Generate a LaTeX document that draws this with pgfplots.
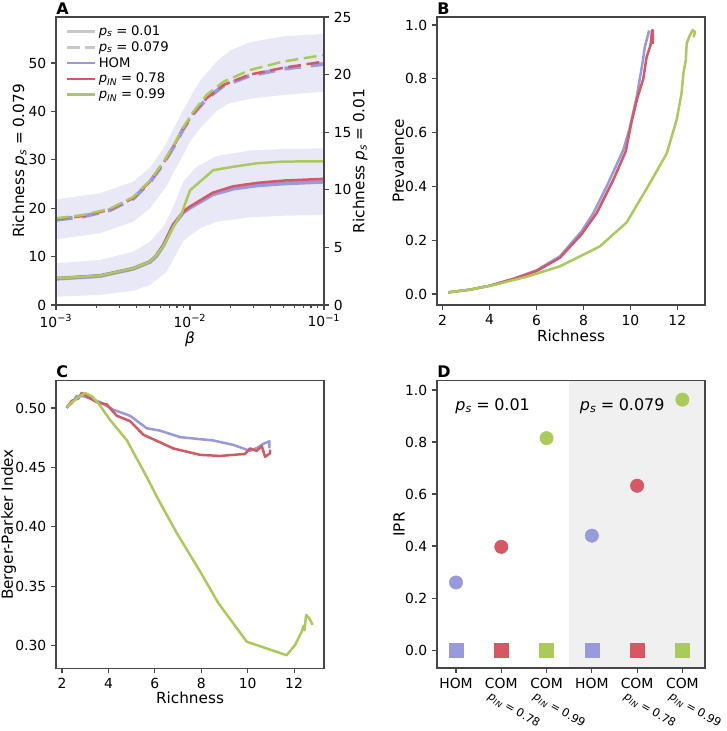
\documentclass[border=0pt]{standalone}
\usepackage{fontspec}
\setmainfont{DejaVu Sans}
\usepackage{pgfplots}
\pgfplotsset{compat=1.18}
\definecolor{homc}{RGB}{153,153,221}
\definecolor{redc}{RGB}{213,88,99}
\definecolor{grnc}{RGB}{170,202,92}
\definecolor{bandc}{RGB}{232,232,246}
\definecolor{legg}{RGB}{200,200,200}
\definecolor{spine}{RGB}{70,70,70}
\definecolor{shade}{RGB}{240,240,240}
\newcommand{\pv}[2]{\textit{p}\textsubscript{\textit{#1}}\;=\;#2}
\tikzset{
  lw/.style={line width=1.8pt, line join=round},
  dsh/.style={dash pattern=on 9.25pt off 4pt},
  letter/.style={anchor=base west, inner sep=0pt, font=\fontsize{11.5}{13}\selectfont\bfseries},
  rotl/.style={xshift=-7pt, yshift=-16.5pt, rotate=-30, anchor=north west, inner sep=0pt, font=\fontsize{8.2}{10}\selectfont},
}
\pgfplotsset{
  base/.style={
    scale only axis, width=192.96pt, height=207.36pt,
    clip mode=individual,
    axis line style={spine, line width=0.8pt},
    tick style={spine, line width=0.8pt},
    tick align=outside, xtick pos=bottom, ytick pos=left,
    major tick length=3.5pt, minor tick length=2pt,
    tick label style={font=\fontsize{10}{12}\selectfont},
    /pgf/number format/assume math mode=true,
    label style={font=\fontsize{11}{13}\selectfont},
  },
}
\begin{document}
\begin{tikzpicture}
\useasboundingbox (0,0) rectangle (523.44pt,526.32pt);
% ---------------- Panel A (left axis, p_s = 0.079) ----------------
\begin{axis}[base, at={(40.32pt,306.72pt)}, anchor=south west,
  xmode=log, xmin=1e-3, xmax=1e-1, ymin=0, ymax=59.5,
  ytick={0,10,20,30,40,50}, ytick pos=left,
  xtick={0.001,0.01,0.1},
  xticklabels={10\textsuperscript{−3},10\textsuperscript{−2},10\textsuperscript{−1}},
  minor xtick={0.002,0.003,0.004,0.005,0.006,0.007,0.008,0.009,0.02,0.03,0.04,0.05,0.06,0.07,0.08,0.09},
  xlabel={\textit{β}}, xlabel style={at={(axis description cs:0.5,-0.12)}, anchor=center},
  ylabel={Richness \pv{s}{0.079}}, ylabel style={at={(axis description cs:-0.135,0.5)}, anchor=center},
  legend style={draw=none, fill=none, at={(0.03,0.985)}, anchor=north west,
    font=\fontsize{9.5}{11}\selectfont, row sep=-1.2pt, inner sep=1pt},
  legend cell align=left,
  legend image code/.code={\draw[#1] (0pt,0pt) -- (20pt,0pt);},
]
\addlegendimage{legg, line width=1.8pt}
\addlegendentry{\pv{s}{0.01}}
\addlegendimage{legg, line width=1.8pt, dsh}
\addlegendentry{\pv{s}{0.079}}
\addlegendimage{homc, line width=1.8pt}
\addlegendentry{HOM}
\addlegendimage{redc, line width=1.8pt}
\addlegendentry{\pv{IN}{0.78}}
\addlegendimage{grnc, line width=1.8pt}
\addlegendentry{\pv{IN}{0.99}}
% band p_s = 0.079
\addplot[fill=bandc, draw=none, forget plot] coordinates {
(0.001,21.83)(0.002128,23.07)(0.003776,25.48)(0.005026,28.4)(0.006324,32.3)(0.007516,36.3)(0.008918,40.3)(0.01059,44.0)(0.01189,46.3)(0.01582,50.3)(0.02005,52.6)(0.02805,54.3)(0.04977,55.50)(0.1,55.99)
(0.1,44.08)(0.04977,43.39)(0.02805,42.6)(0.01939,41.6)(0.01582,40.1)(0.01189,36.5)(0.01,33.8)(0.008918,31.0)(0.0075,27.3)(0.006701,24.6)(0.005026,19.97)(0.003776,17.22)(0.002128,14.81)(0.001,13.57)};
% dashed curves
\addplot[homc, line width=2.8pt, dash pattern=on 12pt off 7pt, forget plot] coordinates {
(0.001,17.6)(0.0016,18.3)(0.00253,19.6)(0.003776,22.0)(0.005026,25.4)(0.006324,29.2)(0.007516,32.6)(0.008918,36.4)(0.01059,39.5)(0.0133,42.6)(0.01774,45.3)(0.02805,47.4)(0.04977,48.8)(0.1,49.8)};
\addplot[redc, lw, dsh, forget plot] coordinates {
(0.001,17.7)(0.0016,18.4)(0.00253,19.7)(0.003776,22.1)(0.005026,25.5)(0.006324,29.3)(0.007516,32.7)(0.008918,36.5)(0.01059,39.6)(0.0133,42.7)(0.01774,45.45)(0.02805,47.6)(0.04977,49.0)(0.1,50.3)};
\addplot[grnc, lw, dsh, forget plot] coordinates {
(0.001,17.9)(0.0016,18.6)(0.00253,19.9)(0.003776,22.3)(0.005026,25.7)(0.006324,29.5)(0.007516,32.9)(0.008918,36.7)(0.01059,39.9)(0.0133,43.4)(0.01774,46.1)(0.02805,48.55)(0.04977,50.3)(0.1,51.65)};
\node[letter] at (rel axis cs:0,1) [yshift=1.8pt] {A};
\end{axis}
% ---------------- Panel A (right axis, p_s = 0.01) ----------------
\begin{axis}[base, at={(40.32pt,306.72pt)}, anchor=south west, axis on top,
  xmode=log, xmin=1e-3, xmax=1e-1, ymin=0, ymax=25,
  ytick={0,5,10,15,20,25}, ytick pos=right, yticklabel pos=right,
  xtick={0.001,0.01,0.1}, xticklabel=\empty,
  minor xtick={0.002,0.003,0.004,0.005,0.006,0.007,0.008,0.009,0.02,0.03,0.04,0.05,0.06,0.07,0.08,0.09},
  ylabel={Richness \pv{s}{0.01}}, ylabel style={at={(axis description cs:1.135,0.5)}, anchor=center},
]
\addplot[fill=bandc, draw=none] coordinates {
(0.001,3.62)(0.002128,3.91)(0.003776,4.63)(0.005026,5.50)(0.006324,6.80)(0.007516,8.54)(0.008918,10.71)(0.01122,12.01)(0.01582,12.93)(0.02805,13.40)(0.04977,13.54)(0.1,13.60)
(0.1,7.81)(0.04977,7.75)(0.02805,7.61)(0.01582,7.23)(0.01189,6.66)(0.008918,5.58)(0.00795,4.48)(0.006701,2.89)(0.005026,1.74)(0.003776,1.24)(0.002128,0.87)(0.001,0.72)};
\addplot[homc, line width=2.8pt] coordinates {
(0.001,2.28)(0.002128,2.52)(0.003776,3.15)(0.005026,3.74)(0.0056,4.25)(0.006324,5.15)(0.007516,6.95)(0.008918,8.05)(0.01,8.45)(0.0148,9.6)(0.021,10.1)(0.0316,10.38)(0.05,10.55)(0.1,10.7)};
\addplot[redc, lw] coordinates {
(0.001,2.31)(0.002128,2.55)(0.003776,3.18)(0.005026,3.76)(0.0056,4.3)(0.006324,5.2)(0.007516,7.0)(0.008918,8.1)(0.01,8.55)(0.0148,9.75)(0.021,10.3)(0.0316,10.6)(0.05,10.8)(0.1,10.95)};
\addplot[grnc, lw] coordinates {
(0.001,2.31)(0.002128,2.55)(0.003776,3.18)(0.005026,3.76)(0.0056,4.3)(0.006324,5.1)(0.007516,6.8)(0.0087,8.0)(0.01,9.95)(0.0149,11.7)(0.021,12.0)(0.0316,12.3)(0.05,12.45)(0.1,12.47)};
\end{axis}
% ---------------- Panel B ----------------
\begin{axis}[base, at={(314.64pt,306.72pt)}, anchor=south west,
  xmin=1.76, xmax=13.18, ymin=-0.041, ymax=1.03,
  xtick={2,4,6,8,10,12}, ytick={0,0.2,0.4,0.6,0.8,1.0},
  yticklabel style={/pgf/number format/.cd, fixed, fixed zerofill, precision=1},
  xlabel={Richness}, xlabel style={at={(axis description cs:0.5,-0.108)}, anchor=center},
  ylabel={Prevalence}, ylabel style={at={(axis description cs:-0.145,0.5)}, anchor=center},
]
\addplot[homc, lw] coordinates {
(2.24,0.006)(3.16,0.016)(4.02,0.031)(5.01,0.056)(6.0,0.088)(7.0,0.14)(7.92,0.233)(8.42,0.30)(8.99,0.40)(9.70,0.536)(9.98,0.62)(10.27,0.734)(10.50,0.85)(10.62,0.92)(10.80,0.98)};
\addplot[redc, lw] coordinates {
(2.24,0.006)(3.16,0.016)(4.02,0.031)(5.01,0.056)(6.0,0.085)(7.0,0.135)(7.92,0.222)(8.56,0.30)(9.27,0.424)(9.80,0.53)(10.05,0.64)(10.30,0.73)(10.55,0.80)(10.69,0.88)(10.86,0.926)(10.92,0.98)(10.96,0.98)(10.95,0.93)};
\addplot[grnc, lw] coordinates {
(2.24,0.006)(3.16,0.016)(4.16,0.033)(5.58,0.064)(7.0,0.103)(8.70,0.177)(9.84,0.266)(10.91,0.424)(11.55,0.523)(11.97,0.647)(12.18,0.746)(12.26,0.82)(12.36,0.87)(12.40,0.932)(12.51,0.957)(12.65,0.981)(12.75,0.975)(12.70,0.955)};
\node[letter] at (rel axis cs:0,1) [yshift=1.8pt] {B};
\end{axis}
% ---------------- Panel C ----------------
\begin{axis}[base, at={(40.32pt,45.14pt)}, anchor=south west, height=207.07pt,
  xmin=1.74, xmax=13.29, ymin=0.281, ymax=0.523,
  xtick={2,4,6,8,10,12}, ytick={0.30,0.35,0.40,0.45,0.50},
  yticklabel style={/pgf/number format/.cd, fixed, fixed zerofill, precision=2},
  xlabel={Richness}, xlabel style={at={(axis description cs:0.5,-0.103)}, anchor=center},
  ylabel={Berger-Parker Index}, ylabel style={at={(axis description cs:-0.177,0.5)}, anchor=center},
]
\addplot[homc, lw] coordinates {
(2.2,0.501)(2.42,0.504)(2.63,0.510)(2.92,0.510)(3.21,0.508)(3.64,0.505)(4.21,0.4986)(4.93,0.4935)(5.65,0.483)(6.22,0.481)(7.09,0.4755)(8.52,0.4727)(9.38,0.469)(10.10,0.464)(10.46,0.467)(10.68,0.470)(10.94,0.472)(10.94,0.466)};
\addplot[redc, lw] coordinates {
(2.2,0.500)(2.42,0.506)(2.7,0.508)(2.85,0.5127)(3.06,0.510)(3.49,0.505)(3.93,0.503)(4.36,0.4935)(4.93,0.489)(5.51,0.4775)(6.80,0.466)(7.95,0.4606)(8.81,0.4597)(9.89,0.4614)(10.10,0.466)(10.39,0.464)(10.61,0.468)(10.75,0.459)(10.97,0.462)(10.97,0.465)};
\addplot[grnc, lw] coordinates {
(2.2,0.5008)(2.63,0.508)(2.99,0.5127)(3.28,0.510)(3.57,0.504)(4.07,0.490)(4.79,0.473)(5.65,0.442)(6.15,0.423)(6.94,0.395)(7.95,0.3625)(8.74,0.3358)(9.96,0.3034)(11.68,0.292)(12.04,0.3006)(12.33,0.3118)(12.40,0.3166)(12.45,0.313)(12.52,0.326)(12.66,0.323)(12.80,0.3175)};
\node[letter] at (rel axis cs:0,1) [yshift=2pt] {C};
\end{axis}
% ---------------- Panel D ----------------
\begin{axis}[base, at={(314.64pt,45.36pt)}, anchor=south west, height=206.86pt,
  axis on top,
  xmin=-0.42, xmax=5.5, ymin=-0.069, ymax=1.036,
  xtick={0,1,2,3,4,5}, xticklabels={HOM,COM,COM,HOM,COM,COM},
  ytick={0,0.2,0.4,0.6,0.8,1.0},
  yticklabel style={/pgf/number format/.cd, fixed, fixed zerofill, precision=1},
  ylabel={IPR}, ylabel style={at={(axis description cs:-0.142,0.5)}, anchor=center},
]
\addplot[fill=shade, draw=none] coordinates {(2.5,-0.069)(5.5,-0.069)(5.5,1.036)(2.5,1.036)};
\addplot[only marks, mark=*, mark size=4.8pt, homc, mark options={draw=none, fill=homc}] coordinates {(0,0.26)(3,0.44)};
\addplot[only marks, mark=*, mark size=4.8pt, redc, mark options={draw=none, fill=redc}] coordinates {(1,0.397)(4,0.632)};
\addplot[only marks, mark=*, mark size=4.8pt, grnc, mark options={draw=none, fill=grnc}] coordinates {(2,0.815)(5,0.963)};
\addplot[only marks, mark=square*, mark size=5pt, homc, mark options={draw=none, fill=homc}] coordinates {(0,0)(3,0)};
\addplot[only marks, mark=square*, mark size=5pt, redc, mark options={draw=none, fill=redc}] coordinates {(1,0)(4,0)};
\addplot[only marks, mark=square*, mark size=5pt, grnc, mark options={draw=none, fill=grnc}] coordinates {(2,0)(5,0)};
\node[anchor=west, inner sep=0pt, font=\fontsize{11.5}{13}\selectfont] at (axis cs:-0.02,0.938) {\pv{s}{0.01}};
\node[anchor=west, inner sep=0pt, font=\fontsize{11.5}{13}\selectfont] at (axis cs:2.73,0.938) {\pv{s}{0.079}};
\node[rotl] at (axis cs:1,-0.069) {\pv{IN}{0.78}};
\node[rotl] at (axis cs:2,-0.069) {\pv{IN}{0.99}};
\node[rotl] at (axis cs:4,-0.069) {\pv{IN}{0.78}};
\node[rotl] at (axis cs:5,-0.069) {\pv{IN}{0.99}};
\node[letter] at (rel axis cs:0,1) [yshift=2pt] {D};
\end{axis}
\end{tikzpicture}
\end{document}
